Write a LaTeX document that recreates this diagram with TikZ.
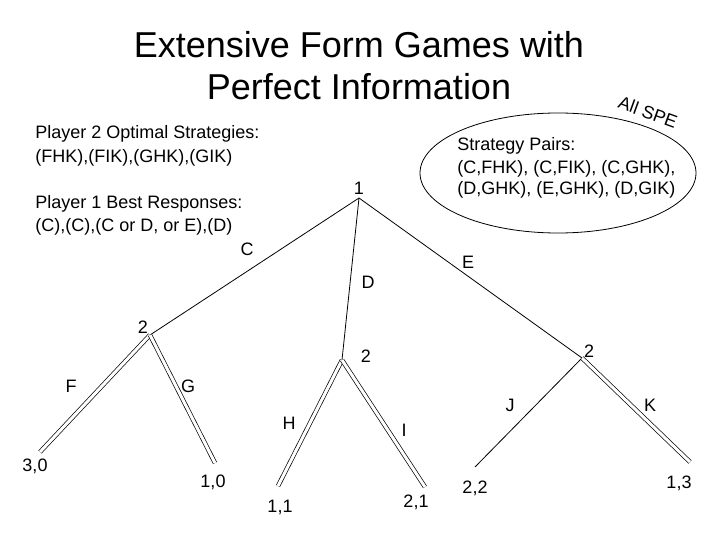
\documentclass[tikz,border=0pt]{standalone}
\usepackage{fontspec}
\setmainfont{Liberation Sans}
\begin{document}
\begin{tikzpicture}[x=1pt,y=-1pt,line width=0.8pt,
  txt/.style={font=\fontsize{18}{23}\selectfont,inner sep=0pt},
  spe/.style={double,double distance=3pt,line width=0.7pt}]
\useasboundingbox (0,0) rectangle (720,540);
\node[font=\fontsize{36}{40}\selectfont,anchor=base] (title1) at (359,58) {Extensive Form Games with};
\node[font=\fontsize{36}{40}\selectfont,anchor=base] (title2) at (359,100) {Perfect Information};

\node[txt,anchor=base west] (opt1) at (35,139) {Player 2 Optimal Strategies:};
\node[txt,anchor=base west] (opt2) at (35,163) {(FHK),(FIK),(GHK),(GIK)};
\node[txt,anchor=base west] (best1) at (35,209) {Player 1 Best Responses:};
\node[txt,anchor=base west] (best2) at (35,232) {(C),(C),(C or D, or E),(D)};

\draw (558,173) ellipse [x radius=138pt,y radius=60pt];
\node[txt,anchor=base west] (pairs1) at (457,151) {Strategy Pairs:};
\node[txt,anchor=base west] (pairs2) at (457,174) {(C,FHK), (C,FIK), (C,GHK),};
\node[txt,anchor=base west] (pairs3) at (457,195) {(D,GHK), (E,GHK), (D,GIK)};
\node[txt,rotate=-20] (allspe) at (648,112) {All SPE};

\coordinate (r) at (359,198);
\coordinate (a) at (150,335);
\coordinate (b) at (342,360);
\coordinate (c) at (582,358);
\coordinate (fl) at (40,452);
\coordinate (gl) at (215,463);
\coordinate (hl) at (278,486);
\coordinate (il) at (425,487);
\coordinate (jl) at (475,467);
\coordinate (kl) at (690,462);

\draw (r) -- (a);
\draw (r) -- (b);
\draw (r) -- (c);
\draw[spe] (a) -- (fl);
\draw[spe] (a) -- (gl);
\draw[spe] (b) -- (hl);
\draw[spe] (b) -- (il);
\draw (c) -- (jl);
\draw[spe] (c) -- (kl);

\node[txt] (p1) at (359,188) {1};
\node[txt] (pa) at (143,327) {2};
\node[txt] (pb) at (366,356) {2};
\node[txt] (pc) at (589,351) {2};
\node[txt] (mc) at (247,249) {C};
\node[txt] (md) at (368,282) {D};
\node[txt] (me) at (468,262) {E};
\node[txt] (mf) at (71,386) {F};
\node[txt] (mg) at (188,386) {G};
\node[txt] (mh) at (289,423) {H};
\node[txt] (mi) at (404,430) {I};
\node[txt] (mj) at (510,405) {J};
\node[txt] (mk) at (650,405) {K};

\node[txt] (o1) at (35,466) {3,0};
\node[txt] (o2) at (213,482) {1,0};
\node[txt] (o3) at (280,507) {1,1};
\node[txt] (o4) at (416,502) {2,1};
\node[txt] (o5) at (475,488) {2,2};
\node[txt] (o6) at (679,483) {1,3};
\end{tikzpicture}
\end{document}
